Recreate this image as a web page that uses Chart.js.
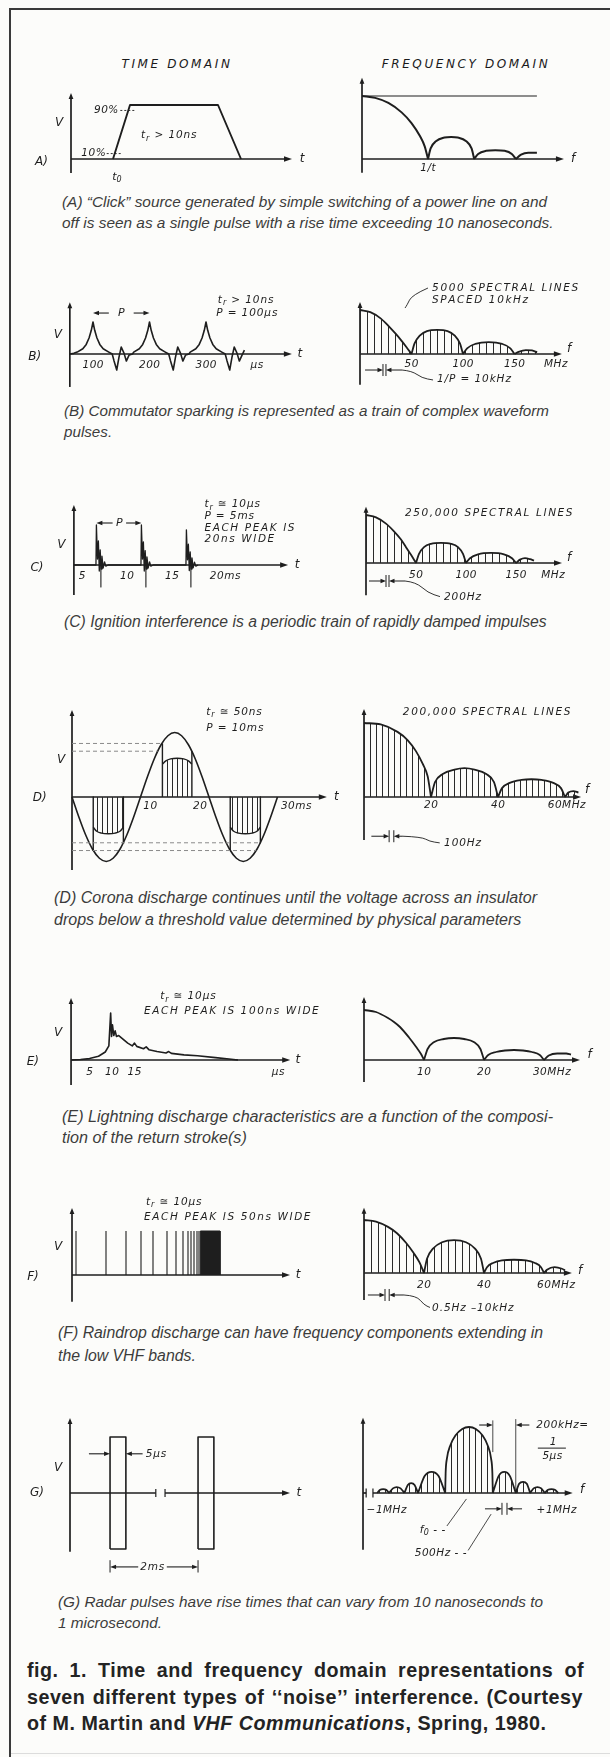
<!DOCTYPE html>
<html>
<head>
<meta charset="utf-8">
<script src="https://cdn.jsdelivr.net/npm/chart.js@4.4.1/dist/chart.umd.min.js"></script>
<style>
  html, body { margin: 0; padding: 0; background: #fcfcfa; }
  #page { position: relative; width: 610px; height: 1757px; overflow: hidden; background: #fcfcfa; }
  .rule { position: absolute; background: #3a3a3a; }
  .title { position: absolute; top: 57px; line-height: 14px; font: italic 12px "DejaVu Sans", sans-serif;
           letter-spacing: 2.6px; color: #1a1a1a; transform: translateX(-50%); white-space: nowrap; }
  .cap { position: absolute; font-family: "Liberation Sans", Arial, sans-serif; font-style: italic; color: #3c3c3c; }
  .cap div, .fig div { white-space: nowrap; }
  .fig { position: absolute; left: 27px; top: 1657px; font-family: "Liberation Sans", Arial, sans-serif;
         font-weight: bold; line-height: 26.5px; color: #232323; }
  canvas { position: absolute; }
</style>
</head>
<body>
<div id="page">
  <div class="rule" style="left:9px;top:8px;width:601px;height:2px"></div>
  <div class="rule" style="left:9px;top:8px;width:2px;height:1749px"></div>
  <div class="rule" style="left:11px;top:1753px;width:599px;height:1px;background:#dcdcdc"></div>
  <div class="title" style="left:177px">TIME DOMAIN</div>
  <div class="title" style="left:466px">FREQUENCY DOMAIN</div>
</div>
<script>
// ---------------- (A) switching click ----------------
const aPulseNs   = [0, 17, 105, 128];
const aPulseV    = [0, 100, 100, 0];
const aRiseLevelsPct = [10, 90];
const aRiseTickNs    = [1.7, 15.3];
const aSpecX   = [0, 0.2, 0.4, 0.6, 0.75, 0.88, 0.95, 1.0, null, 1.0, 1.04, 1.12, 1.25, 1.35, 1.45, 1.58, 1.66, 1.70, null, 1.70, 1.76, 1.88, 2.02, 2.16, 2.27, 2.33, null, 2.33, 2.41, 2.52, 2.65];
const aSpecAmp = [1, 0.97, 0.89, 0.74, 0.57, 0.36, 0.2, 0, null, 0, 0.17, 0.28, 0.34, 0.35, 0.34, 0.28, 0.17, 0, null, 0, 0.08, 0.13, 0.14, 0.13, 0.08, 0, null, 0, 0.07, 0.1, 0.1];
const aFlatX   = [0, 2.65];
const aFlatAmp = [1, 1];

// ---------------- (B) commutator sparking ----------------
const bTimeUs = [59, 66, 72, 82, 88, 93, 97, 100, 103, 107, 112, 118, 128, 134, 137, 142, 146, 150, 155, 159, 164, 170,
                 172, 182, 188, 193, 197, 200, 203, 207, 212, 218, 228, 234, 237, 242, 246, 250, 255, 259, 264, 270,
                 272, 282, 288, 293, 297, 300, 303, 307, 312, 318, 328, 334, 337, 342, 346, 350, 355, 359, 364, 368];
const bTimeV  = [0, 0.02, 0.06, 0.165, 0.3, 0.5, 0.74, 1, 0.74, 0.5, 0.3, 0.165, 0.06, 0, -0.2, -0.5, -0.1, 0.22, 0.02, -0.22, -0.03, 0,
                 0.06, 0.165, 0.3, 0.5, 0.74, 1, 0.74, 0.5, 0.3, 0.165, 0.06, 0, -0.2, -0.5, -0.1, 0.22, 0.02, -0.22, -0.03, 0,
                 0.06, 0.165, 0.3, 0.5, 0.74, 1, 0.74, 0.5, 0.3, 0.165, 0.06, 0, -0.2, -0.5, -0.1, 0.22, 0.02, -0.22, -0.03, 0.12];
const bTickUs  = [100, 200, 300];
const bFreqMHz = [0, 10, 20, 28, 35, 40, 45, 50, null, 50, 53, 58, 65, 75, 85, 92, 97, 100, null, 100, 104, 112, 125, 138, 146, 150, null, 150, 154, 161, 167, 172];
const bFreqAmp = [1, 0.95, 0.81, 0.63, 0.45, 0.31, 0.16, 0, null, 0, 0.24, 0.42, 0.52, 0.55, 0.52, 0.42, 0.24, 0, null, 0, 0.13, 0.23, 0.27, 0.23, 0.13, 0, null, 0, 0.05, 0.09, 0.08, 0.04];
const bFreqTickMHz = [50, 100, 150];

// ---------------- (C) ignition ----------------
const cTimeMs = [4.1, 6.55, 6.6, 6.72, 6.82, 6.92, 7.02, 7.12, 7.22, 7.35, 7.5, 7.65, 7.9,
                 11.55, 11.6, 11.72, 11.82, 11.92, 12.02, 12.12, 12.22, 12.35, 12.5, 12.65, 12.9,
                 16.55, 16.6, 16.72, 16.82, 16.92, 17.02, 17.12, 17.22, 17.35, 17.5, 17.65, 17.9];
const cTimeV  = [0, 0, 1.0, 0.15, 0.6, -0.15, 0.38, -0.1, 0.22, -0.08, 0.08, -0.03, 0,
                 0, 1.0, 0.15, 0.58, -0.15, 0.36, -0.1, 0.2, -0.08, 0.08, -0.03, 0,
                 0, 0.88, 0.13, 0.52, -0.14, 0.33, -0.1, 0.18, -0.07, 0.07, -0.03, 0];
const cSparkMs = [6.6, 11.6, 16.6];
const cMarkMs  = [7.1, 12.1, 17.1];
const cTickMs  = [5, 10, 15];
const cFreqMHz = [0, 10, 20, 28, 35, 40, 45, 50, null, 50, 53, 58, 65, 75, 85, 92, 97, 100, null, 100, 104, 112, 125, 138, 146, 150, null, 150, 154, 159, 164, 168];
const cFreqAmp = [1, 0.95, 0.82, 0.66, 0.49, 0.33, 0.17, 0, null, 0, 0.19, 0.33, 0.4, 0.42, 0.4, 0.33, 0.19, 0, null, 0, 0.1, 0.18, 0.21, 0.18, 0.1, 0, null, 0, 0.07, 0.1, 0.08, 0.05];
const cFreqTickMHz = [50, 100, 150];

// ---------------- (D) corona ----------------
const dTimeMs = [0, 1, 2, 3, 4, 5, 6, 7, 8, 9, 10, 11, 12, 13, 14, 15, 16, 17, 18, 19, 20, 21, 22, 23, 24, 25, 26, 27, 28, 29, 30];
const dTimeV  = [0, -0.31, -0.59, -0.81, -0.95, -1, -0.95, -0.81, -0.59, -0.31, 0, 0.31, 0.59, 0.81, 0.95, 1, 0.95, 0.81, 0.59, 0.31, 0,
                 -0.31, -0.59, -0.81, -0.95, -1, -0.95, -0.81, -0.59, -0.31, 0];
const dThresholdV     = [0.83, 0.71, -0.71, -0.83];
const dThresholdEndMs = [13.2, 12.5, 27.5, 26.9];
const dCoronaMs = [3.1, 3.6, 4.3, 5.3, 6.3, 7.0, 7.5, null, 13.2, 13.7, 14.4, 15.35, 16.3, 17.0, 17.5, null, 23.1, 23.6, 24.3, 25.3, 26.3, 27.0, 27.5];
const dCoronaV  = [-0.47, -0.53, -0.56, -0.57, -0.56, -0.53, -0.47, null, 0.51, 0.56, 0.59, 0.6, 0.59, 0.56, 0.51, null, -0.47, -0.53, -0.56, -0.57, -0.56, -0.53, -0.47];
const dEdgeMs = [3.1, 7.5, 13.2, 17.5, 23.1, 27.5];
const dEdgeV  = [-0.83, -0.71, 0.83, 0.71, -0.83, -0.71];
const dFreqMHz = [0, 5, 10, 13, 15.5, 17.5, 19, 20, null, 20, 21.2, 23.5, 27, 30, 33, 36.5, 38.8, 40, null, 40, 41.2, 43.5, 47, 50, 53, 56.5, 58.8, 60, null, 60, 61, 62.5, 64];
const dFreqAmp = [1, 0.98, 0.88, 0.77, 0.62, 0.45, 0.28, 0, null, 0, 0.2, 0.31, 0.37, 0.39, 0.37, 0.31, 0.2, 0, null, 0, 0.12, 0.19, 0.23, 0.24, 0.23, 0.19, 0.12, 0, null, 0, 0.06, 0.08, 0.06];
const dFreqTickMHz = [20, 40];

// ---------------- (E) lightning ----------------
const eTimeUs = [0.9, 3, 5, 7, 8.5, 9.3, 9.7, 9.9, 10.1, 10.4, 10.7, 11.0, 11.5, 12.5, 13.5, 14.5, 15.0, 15.5, 17, 17.6, 18.2, 20, 22, 22.6, 23.2, 26, 29, 33, 36, 38];
const eTimeV  = [0, 0.01, 0.03, 0.08, 0.17, 0.3, 1.0, 0.5, 0.75, 0.52, 0.62, 0.5, 0.52, 0.44, 0.36, 0.3, 0.36, 0.29, 0.24, 0.28, 0.22, 0.18, 0.15, 0.18, 0.14, 0.11, 0.09, 0.05, 0.02, 0];
const eTickUs = [5, 10, 15];
const eFreqMHz = [0, 2, 4, 5, 6, 7.5, 8.7, 9.5, 10, null, 10, 10.6, 11.7, 13.3, 15, 16.7, 18.3, 19.4, 20, null, 20, 20.7, 22, 23.5, 25, 26.5, 28, 29.3, 30, null, 30, 30.8, 32.2, 33.7, 34.5];
const eFreqAmp = [1, 0.96, 0.84, 0.76, 0.66, 0.45, 0.26, 0.12, 0, null, 0, 0.22, 0.36, 0.42, 0.44, 0.42, 0.36, 0.22, 0, null, 0, 0.1, 0.16, 0.19, 0.2, 0.19, 0.16, 0.1, 0, null, 0, 0.09, 0.13, 0.13, 0.11];
const eFreqTickMHz = [10, 20];

// ---------------- (F) raindrop ----------------
const fSparkX      = [2, 17, 27, 34.5, 40.5, 47.5, 52, 55.5, 58, 59.5, 61, 62.5, 63.5];
const fSparkHeight = [1, 1, 1, 1, 1, 1, 1, 1, 1, 1, 1, 1, 1];
const fBurstX      = [64.2, 74];
const fFreqMHz = [0, 4, 8, 11, 14, 16.5, 18.5, 20, null, 20, 21, 23, 26, 30, 34, 37, 39, 40, null, 40, 41, 43, 46, 50, 54, 57, 59, 60, null, 60, 61, 63.5, 66, 67];
const fFreqAmp = [1, 0.97, 0.87, 0.75, 0.57, 0.38, 0.2, 0, null, 0, 0.27, 0.46, 0.58, 0.62, 0.58, 0.46, 0.27, 0, null, 0, 0.11, 0.19, 0.24, 0.25, 0.24, 0.19, 0.11, 0, null, 0, 0.06, 0.11, 0.08, 0.05];
const fFreqTickMHz = [20, 40];

// ---------------- (G) radar ----------------
const gPulseStart = [0.91, 2.91];
const gPulseEnd   = [1.27, 3.27];
const gPulseV     = [1, -1];
const gFreqMHz = [-1.08, -1.045, -1.01, -0.975, -0.94, null, -0.94, -0.895, -0.85, -0.805, -0.76, null, -0.76, -0.72, -0.68, -0.64, -0.6, null,
                  -0.6, -0.52, -0.44, -0.36, -0.28, null,
                  -0.28, -0.275, -0.26, -0.22, -0.16, -0.08, 0, 0.08, 0.16, 0.22, 0.26, 0.275, 0.28, null,
                  0.28, 0.35, 0.415, 0.48, 0.55, null, 0.55, 0.59, 0.635, 0.68, 0.72, null, 0.72, 0.76, 0.805, 0.85, 0.89, null, 0.89, 0.93, 0.97, 1.01, 1.05];
const gFreqAmp = [0, 0.05, 0.06, 0.05, 0, null, 0, 0.07, 0.09, 0.07, 0, null, 0, 0.12, 0.15, 0.12, 0, null,
                  0, 0.26, 0.32, 0.26, 0, null,
                  0, 0.3, 0.52, 0.72, 0.87, 0.97, 1, 0.97, 0.87, 0.72, 0.52, 0.3, 0, null,
                  0, 0.26, 0.32, 0.26, 0, null, 0, 0.14, 0.17, 0.14, 0, null, 0, 0.07, 0.09, 0.07, 0, null, 0, 0.05, 0.06, 0.05, 0];

// ---------------- panel placement (page pixels) ----------------
// box: canvas rectangle; origin: page pixel of data (0,0); k: pixels per data unit
const LAYOUT = {
  aTime: { box: [20, 85, 318, 100],  origin: [113, 159],  k: [1, 0.54] },
  aFreq: { box: [340, 70, 265, 115], origin: [362, 159],  k: [66, 63] },
  bTime: { box: [20, 282, 318, 110], origin: [36.5, 354], k: [0.565, 32] },
  bFreq: { box: [340, 282, 265, 113], origin: [360, 354], k: [1.03, 44] },
  cTime: { box: [20, 497, 318, 102], origin: [37, 565],   k: [9, 40] },
  cFreq: { box: [340, 500, 265, 104], origin: [366, 563], k: [1.0, 48] },
  dTime: { box: [20, 700, 330, 175], origin: [72, 797],   k: [6.85, 64.5] },
  dFreq: { box: [340, 700, 265, 150], origin: [364, 797], k: [3.35, 74] },
  eTime: { box: [20, 988, 318, 100], origin: [67, 1060],  k: [4.5, 47] },
  eFreq: { box: [340, 988, 265, 100], origin: [364, 1060], k: [6.0, 50] },
  fTime: { box: [20, 1195, 318, 112], origin: [72, 1275], k: [2, 44] },
  fFreq: { box: [340, 1198, 265, 116], origin: [364, 1273], k: [3.0, 53] },
  gTime: { box: [20, 1410, 318, 170], origin: [70, 1493], k: [44, 56] },
  gFreq: { box: [340, 1400, 265, 160], origin: [469, 1493], k: [85, 66] }
};

const CAPTIONS = [
  { left: 62, top: 191, width: 485, lh: 21, lines: ['(A) \u201CClick\u201D source generated by simple switching of a power line on and', 'off is seen as a single pulse with a rise time exceeding 10 nanoseconds.'] },
  { left: 64, top: 400, width: 485, lh: 21, lines: ['(B) Commutator sparking is represented as a train of complex waveform', 'pulses.'] },
  { left: 64, top: 611, width: 483, lh: 21, lines: ['(C) Ignition interference is a periodic train of rapidly damped impulses'] },
  { left: 54, top: 886, width: 483, lh: 22, lines: ['(D) Corona discharge continues until the voltage across an insulator', 'drops below a threshold value determined by physical parameters'] },
  { left: 62, top: 1106, width: 491, lh: 21, lines: ['(E) Lightning discharge characteristics are a function of the composi-', 'tion of the return stroke(s)'] },
  { left: 58, top: 1321, width: 485, lh: 23, lines: ['(F) Raindrop discharge can have frequency components extending in', 'the low VHF bands.'] },
  { left: 58, top: 1591, width: 485, lh: 21, lines: ['(G) Radar pulses have rise times that can vary from 10 nanoseconds to', '1 microsecond.'] }
];
const FIG_LINES = [
  'fig. 1. Time and frequency domain representations of',
  'seven different types of \u2018\u2018noise\u2019\u2019 interference. (Courtesy'
];

const INK = '#1e1e1e';
const page = document.getElementById('page');
const meas = document.createElement('canvas').getContext('2d');

// spread a single line to an exact width through word spacing
function spread(div, text, font, ls, target) {
  meas.font = font;
  const natural = meas.measureText(text).width + ls * text.length;
  const gaps = (text.match(/ /g) || []).length;
  if (gaps) div.style.wordSpacing = ((target - natural) / gaps).toFixed(2) + 'px';
}

CAPTIONS.forEach(c => {
  meas.font = 'italic 14px "Liberation Sans"';
  const size = 14 * c.width / meas.measureText(c.lines[0]).width;
  const font = `italic ${size.toFixed(2)}px "Liberation Sans"`;
  const el = document.createElement('div');
  el.className = 'cap';
  el.style.cssText = `left:${c.left}px;top:${c.top}px;font-size:${size.toFixed(2)}px;line-height:${c.lh}px`;
  c.lines.forEach((t, i) => {
    const d = document.createElement('div');
    d.textContent = t;
    if (i < c.lines.length - 1) spread(d, t, font, 0, c.width);
    el.appendChild(d);
  });
  page.appendChild(el);
});

// figure caption
(() => {
  const ls = 0.5, width = 557;
  meas.font = 'bold 16px "Liberation Sans"';
  const w2 = meas.measureText(FIG_LINES[1]).width;
  const size = 16 * (width - 8 - ls * FIG_LINES[1].length) / w2;
  const font = `bold ${size.toFixed(2)}px "Liberation Sans"`;
  const el = document.createElement('div');
  el.className = 'fig';
  el.style.fontSize = size.toFixed(2) + 'px';
  el.style.letterSpacing = ls + 'px';
  FIG_LINES.forEach(t => {
    const d = document.createElement('div');
    d.textContent = t;
    spread(d, t, font, ls, width);
    el.appendChild(d);
  });
  const last = document.createElement('div');
  last.innerHTML = 'of M. Martin and <i>VHF Communications</i>, Spring, 1980.';
  el.appendChild(last);
  page.appendChild(el);
})();

// ---------------- drawing helpers ----------------
function hatch(step, offset) {
  const c = document.createElement('canvas');
  c.width = step; c.height = 4;
  const g = c.getContext('2d');
  g.fillStyle = '#2a2a2a';
  g.fillRect(0, 0, 1, 4);
  const p = g.createPattern(c, 'repeat');
  p.setTransform(new DOMMatrix().translate(((offset % step) + step) % step, 0));
  return p;
}
function hatchFor(key, step) {
  const L = LAYOUT[key];
  return hatch(step, Math.round(L.origin[0] - L.box[0]));
}

function points(xs, ys) {
  return xs.map((x, i) => ({ x: x, y: ys[i] }));
}
function series(xs, ys, o = {}) {
  return {
    data: points(xs, ys),
    showLine: true, pointRadius: 0, pointHoverRadius: 0,
    borderColor: o.color || INK, borderWidth: o.w || 1.6,
    borderDash: o.dash || [], borderJoinStyle: 'round', borderCapStyle: 'butt',
    tension: 0, cubicInterpolationMode: o.mono ? 'monotone' : 'default',
    spanGaps: false, fill: o.fill || false,
    backgroundColor: o.bg || 'rgba(0,0,0,0)',
    clip: false
  };
}
// vertical strokes from a base value to each value
function strokes(xs, from, to) {
  const px = [], py = [];
  xs.forEach((x, i) => {
    px.push(x, x, null);
    py.push(Array.isArray(from) ? from[i] : from, Array.isArray(to) ? to[i] : to, null);
  });
  return [px, py];
}

function arrowHead(ctx, a, b, len, half) {
  const ang = Math.atan2(b[1] - a[1], b[0] - a[0]);
  const c = Math.cos(ang), s = Math.sin(ang);
  ctx.beginPath();
  ctx.moveTo(b[0], b[1]);
  ctx.lineTo(b[0] - len * c + half * s, b[1] - len * s - half * c);
  ctx.lineTo(b[0] - len * c - half * s, b[1] - len * s + half * c);
  ctx.closePath();
  ctx.fill();
}

function drawLabel(ctx, px, py, str, o) {
  const size = o.size || 10, sp = (o.sp === undefined) ? 1.6 : o.sp;
  const toks = [];
  for (let i = 0; i < str.length; i++) {
    if (str[i] === '_' && i + 1 < str.length) { toks.push({ c: str[i + 1], sub: true }); i++; }
    else toks.push({ c: str[i], sub: false });
  }
  const font = sub => `italic ${o.bold ? 'bold ' : ''}${sub ? Math.round(size * 0.72) : size}px "DejaVu Sans"`;
  let total = 0;
  const adv = toks.map(t => { ctx.font = font(t.sub); const w = ctx.measureText(t.c).width + sp; total += w; return w; });
  total -= sp;
  let x = o.align === 'left' ? px : o.align === 'right' ? px - total : px - total / 2;
  ctx.textBaseline = 'middle';
  ctx.textAlign = 'left';
  toks.forEach((t, i) => {
    ctx.font = font(t.sub);
    ctx.fillText(t.c, x, py + (t.sub ? size * 0.32 : 0));
    x += adv[i];
  });
}

function paint(chart, items) {
  const ctx = chart.ctx, sx = chart.scales.x, sy = chart.scales.y;
  const X = v => sx.getPixelForValue(v), Y = v => sy.getPixelForValue(v);
  ctx.save();
  for (const it of items) {
    ctx.fillStyle = it.color || INK;
    ctx.strokeStyle = it.color || INK;
    if (it.t === 'line') {
      const p = it.pts.map(q => [X(q[0]), Y(q[1])]);
      const n = p.length, hl = it.hl || 7, hw = it.hw || 2.6;
      const d = p.map(q => q.slice());
      const pull = (from, to) => {
        const dx = to[0] - from[0], dy = to[1] - from[1], L = Math.hypot(dx, dy) || 1;
        to[0] -= dx / L * hl * 0.6; to[1] -= dy / L * hl * 0.6;
      };
      if (it.head === 'end' || it.head === 'both') pull(d[n - 2], d[n - 1]);
      if (it.head === 'start' || it.head === 'both') pull(d[1], d[0]);
      ctx.lineWidth = it.w || 1.2;
      ctx.setLineDash(it.dash || []);
      ctx.lineCap = 'butt';
      ctx.beginPath();
      ctx.moveTo(d[0][0], d[0][1]);
      if (it.smooth && n > 2) {
        for (let i = 1; i < n - 1; i++) {
          ctx.quadraticCurveTo(d[i][0], d[i][1], (d[i][0] + d[i + 1][0]) / 2, (d[i][1] + d[i + 1][1]) / 2);
        }
        ctx.lineTo(d[n - 1][0], d[n - 1][1]);
      } else {
        for (let i = 1; i < n; i++) ctx.lineTo(d[i][0], d[i][1]);
      }
      ctx.stroke();
      ctx.setLineDash([]);
      if (it.head === 'end' || it.head === 'both') arrowHead(ctx, p[n - 2], p[n - 1], hl, hw);
      if (it.head === 'start' || it.head === 'both') arrowHead(ctx, p[1], p[0], hl, hw);
    } else if (it.t === 'text') {
      drawLabel(ctx, X(it.x), Y(it.y), it.s, it);
    } else if (it.t === 'gap') {
      const y = Y(it.y), h = it.h || 6;
      ctx.lineWidth = 1;
      [it.x1, it.x2].forEach(v => { ctx.beginPath(); ctx.moveTo(X(v), y - h); ctx.lineTo(X(v), y + h); ctx.stroke(); });
      [[it.xa, it.x1], [it.xb, it.x2]].forEach(([a, b]) => {
        const A = [X(a), y], B = [X(b), y];
        const dir = Math.sign(B[0] - A[0]);
        ctx.beginPath(); ctx.moveTo(A[0], y); ctx.lineTo(B[0] - dir * 3, y); ctx.stroke();
        arrowHead(ctx, A, B, 5.5, 2.2);
      });
    }
  }
  ctx.restore();
}

const sketchPlugin = {
  id: 'sketch',
  beforeDatasetsDraw(chart, args, opts) { paint(chart, (opts.items || []).filter(i => i.under)); },
  afterDatasetsDraw(chart, args, opts) { paint(chart, (opts.items || []).filter(i => !i.under)); }
};

const Ln = (pts, o = {}) => Object.assign({ t: 'line', pts }, o);
const Tx = (x, y, s, o = {}) => Object.assign({ t: 'text', x, y, s }, o);
const Gap = o => Object.assign({ t: 'gap' }, o);
function axes(xAt, yFrom, yTo, xTo, yAt = 0) {
  return [
    Ln([[xAt, yFrom], [xAt, yTo]], { head: 'end', w: 1.7, under: true, hl: 6, hw: 2.4 }),
    Ln([[xAt, yAt], [xTo, yAt]], { head: 'end', w: 1.7, under: true, hl: 8, hw: 2.8 })
  ];
}
const BIG = { size: 12, sp: 0 };
const TICK = { size: 10.5, sp: 0.5 };
const NOTE = { size: 10.5, sp: 1.6, align: 'left' };
const NOTE_T = Object.assign({}, NOTE, { sp: 0.9 });

function panel(key, datasets, items) {
  const L = LAYOUT[key];
  const [bx, by, bw, bh] = L.box, [ox, oy] = L.origin, [kx, ky] = L.k;
  const cv = document.createElement('canvas');
  cv.width = bw; cv.height = bh;
  cv.style.left = bx + 'px'; cv.style.top = by + 'px';
  cv.style.width = bw + 'px'; cv.style.height = bh + 'px';
  page.appendChild(cv);
  new Chart(cv, {
    type: 'scatter',
    data: { datasets },
    options: {
      responsive: false, animation: false, devicePixelRatio: 1, events: [],
      layout: { padding: 0 },
      plugins: { legend: { display: false }, tooltip: { enabled: false }, sketch: { items } },
      scales: {
        x: { type: 'linear', display: false, min: (bx - ox) / kx, max: (bx + bw - ox) / kx },
        y: { type: 'linear', display: false, min: (oy - by - bh) / ky, max: (oy - by) / ky }
      }
    },
    plugins: [sketchPlugin]
  });
}

// ---------------- (A) ----------------
panel('aTime', [series(aPulseNs, aPulseV, { w: 1.9 })], [
  ...axes(-42, -26, 122, 179),
  Tx(189, 0, 't', BIG), Tx(-54, 67, 'V', BIG), Tx(-78, -6, 'A)', Object.assign({ align: 'left' }, BIG)),
  ...aRiseLevelsPct.map((lv, i) => Ln([[aRiseTickNs[i] - 8, lv], [aRiseTickNs[i] + 7, lv]], { w: 0.9, dash: [2, 2] })),
  Tx(aRiseTickNs[1] - 10, aRiseLevelsPct[1], aRiseLevelsPct[1] + '%', Object.assign({}, TICK, { align: 'right' })),
  Tx(aRiseTickNs[0] - 9, aRiseLevelsPct[0], aRiseLevelsPct[0] + '%', Object.assign({}, TICK, { align: 'right' })),
  Tx(28, 44, 't_r > 10ns', NOTE_T),
  Tx(4, -33, 't_0', { size: 11, sp: 0 })
]);
panel('aFreq', [series(aSpecX, aSpecAmp, { w: 2, mono: true }), series(aFlatX, aFlatAmp, { w: 1.2 })], [
  ...axes(0, -0.22, 1.29, 3.06),
  Tx(3.2, 0, 'f', BIG), Tx(1.0, -0.15, '1/t', TICK)
]);

// ---------------- (B) ----------------
panel('bTime', [series(bTimeUs, bTimeV, { w: 1.6 })], [
  ...axes(59, -1.03, 1.62, 452),
  Tx(466, 0, 't', BIG), Tx(38, 0.59, 'V', BIG), Tx(-3, -0.09, 'B)', BIG),
  ...bTickUs.map(v => Tx(v, -0.35, String(v), TICK)), Tx(390, -0.35, 'µs', TICK),
  Ln([[128, 1.28], [bTickUs[0], 1.28]], { head: 'end', w: 1.1, hl: 6, hw: 2.2 }),
  Ln([[172, 1.28], [bTickUs[1], 1.28]], { head: 'end', w: 1.1, hl: 6, hw: 2.2 }),
  Tx(150, 1.28, 'P', { size: 11, sp: 0 }),
  Tx(321, 1.69, 't_r > 10ns', NOTE_T), Tx(318, 1.28, 'P = 100µs', NOTE_T)
]);
panel('bFreq', [series(bFreqMHz, bFreqAmp, { w: 1.8, mono: true, fill: 'origin', bg: hatchFor('bFreq', 7) })], [
  ...axes(0, -0.7, 1.18, 196),
  Tx(203, 0.12, 'f', BIG),
  ...bFreqTickMHz.map(v => Tx(v, -0.23, String(v), TICK)), Tx(190, -0.23, 'MHz', TICK),
  Tx(70, 1.5, '5000 SPECTRAL LINES', NOTE), Tx(70, 1.23, 'SPACED 10kHz', NOTE),
  Ln([[66, 1.5], [50.5, 1.34], [45.6, 1.11], [43.7, 1.045]], { w: 0.9, smooth: true }),
  Gap({ x1: 22.3, x2: 25.2, xa: 4.9, xb: 40.8, y: -0.364, h: 6 }),
  Ln([[40.8, -0.364], [50.5, -0.386], [60.2, -0.545], [70.9, -0.59]], { w: 0.9, smooth: true }),
  Tx(74.8, -0.57, '1/P = 10kHz', NOTE_T)
]);

// ---------------- (C) ----------------
const [cMx, cMy] = strokes(cMarkMs, 0.15, -0.55);
panel('cTime', [series(cTimeMs, cTimeV, { w: 1.3 }), series(cMx, cMy, { w: 1.1 })], [
  ...axes(4.1, -0.75, 1.5, 27.9),
  Tx(28.9, 0, 't', BIG), Tx(2.7, 0.5, 'V', BIG), Tx(0, -0.08, 'C)', BIG),
  ...cTickMs.map(v => Tx(v, -0.28, String(v), TICK)), Tx(19.2, -0.28, '20ms', Object.assign({}, TICK, { align: 'left' })),
  Ln([[8.4, 1.05], [cSparkMs[0], 1.05]], { head: 'end', w: 1.1, hl: 6, hw: 2.2 }),
  Ln([[9.9, 1.05], [cSparkMs[1], 1.05]], { head: 'end', w: 1.1, hl: 6, hw: 2.2 }),
  Tx(9.15, 1.05, 'P', { size: 11, sp: 0 }),
  Tx(18.6, 1.52, 't_r ≅ 10µs', NOTE_T), Tx(18.6, 1.22, 'P = 5ms', NOTE_T),
  Tx(18.6, 0.93, 'EACH PEAK IS', NOTE), Tx(18.6, 0.64, '20ns WIDE', NOTE)
]);
panel('cFreq', [series(cFreqMHz, cFreqAmp, { w: 1.8, mono: true, fill: 'origin', bg: hatchFor('cFreq', 7) })], [
  ...axes(0, -0.67, 1.17, 196),
  Tx(203, 0.1, 'f', BIG),
  ...cFreqTickMHz.map(v => Tx(v, -0.25, String(v), TICK)), Tx(187, -0.25, 'MHz', TICK),
  Tx(39, 1.04, '250,000 SPECTRAL LINES', NOTE),
  Gap({ x1: 20, x2: 23, xa: 3, xb: 39, y: -0.375, h: 6 }),
  Ln([[39, -0.375], [50, -0.4], [62, -0.62], [74, -0.7]], { w: 0.9, smooth: true }),
  Tx(78, -0.71, '200Hz', NOTE_T)
]);

// ---------------- (D) ----------------
const dThrX = [], dThrY = [];
dThresholdV.forEach((v, i) => { dThrX.push(0, dThresholdEndMs[i], null); dThrY.push(v, v, null); });
const [dEx, dEy] = strokes(dEdgeMs, 0, dEdgeV);
panel('dTime', [
  series(dThrX, dThrY, { w: 1, dash: [4, 3], color: '#8a8a8a' }),
  series(dCoronaMs, dCoronaV, { w: 1.4, mono: true, fill: 'origin', bg: hatchFor('dTime', 5) }),
  series(dEx, dEy, { w: 1.4 }),
  series(dTimeMs, dTimeV, { w: 1.6, mono: true })
], [
  ...axes(0, -1.13, 1.35, 37.2),
  Tx(38.6, 0, 't', BIG), Tx(-1.6, 0.57, 'V', BIG), Tx(-4.7, -0.02, 'D)', BIG),
  Tx(10.4, -0.14, '10', Object.assign({}, TICK, { align: 'left' })),
  Tx(19.7, -0.14, '20', Object.assign({}, TICK, { align: 'right' })),
  Tx(30.5, -0.14, '30ms', Object.assign({}, TICK, { align: 'left' })),
  Tx(19.6, 1.32, 't_r ≅ 50ns', NOTE_T), Tx(19.6, 1.07, 'P = 10ms', NOTE_T)
]);
panel('dFreq', [series(dFreqMHz, dFreqAmp, { w: 1.8, mono: true, fill: 'origin', bg: hatchFor('dFreq', 6) })], [
  ...axes(0, -0.58, 1.19, 64.8),
  Tx(66.6, 0.09, 'f', BIG),
  ...dFreqTickMHz.map(v => Tx(v, -0.11, String(v), TICK)), Tx(60.5, -0.11, '60MHz', TICK),
  Tx(11.6, 1.15, '200,000 SPECTRAL LINES', NOTE),
  Gap({ x1: 7.5, x2: 8.9, xa: 2.2, xb: 11.6, y: -0.53, h: 6 }),
  Ln([[11.6, -0.53], [17.2, -0.54], [19.6, -0.6], [22.6, -0.62]], { w: 0.9, smooth: true }),
  Tx(23.9, -0.62, '100Hz', NOTE_T)
]);

// ---------------- (E) ----------------
panel('eTime', [series(eTimeUs, eTimeV, { w: 1.6 })], [
  ...axes(0.9, -0.53, 1.32, 49.6),
  Tx(51.3, 0, 't', BIG), Tx(-2, 0.57, 'V', BIG), Tx(-7.6, -0.04, 'E)', BIG),
  ...eTickUs.map(v => Tx(v, -0.26, String(v), TICK)), Tx(46.9, -0.26, 'µs', TICK),
  Tx(20.7, 1.36, 't_r ≅ 10µs', NOTE_T), Tx(17.1, 1.04, 'EACH PEAK IS 100ns WIDE', NOTE)
]);
panel('eFreq', [series(eFreqMHz, eFreqAmp, { w: 1.8, mono: true })], [
  ...axes(0, -0.44, 1.26, 36),
  Tx(37.6, 0.1, 'f', BIG),
  ...eFreqTickMHz.map(v => Tx(v, -0.24, String(v), TICK)), Tx(31.3, -0.24, '30MHz', TICK)
]);

// ---------------- (F) ----------------
const [fSx, fSy] = strokes(fSparkX, 0, fSparkHeight);
panel('fTime', [
  series(fSx, fSy, { w: 1.1 }),
  series([fBurstX[0], fBurstX[0], fBurstX[1], fBurstX[1]], [0, 1, 1, 0], { w: 1, fill: 'origin', bg: INK })
], [
  ...axes(0, -0.61, 1.52, 109),
  Tx(113, 0, 't', BIG), Tx(-7, 0.64, 'V', BIG), Tx(-19.5, -0.05, 'F)', BIG),
  Tx(37, 1.66, 't_r ≅ 10µs', NOTE_T), Tx(36, 1.32, 'EACH PEAK IS 50ns WIDE', NOTE)
]);
panel('fFreq', [series(fFreqMHz, fFreqAmp, { w: 1.8, mono: true, fill: 'origin', bg: hatchFor('fFreq', 7) })], [
  ...axes(0, -0.51, 1.23, 69.3),
  Tx(72, 0.04, 'f', BIG),
  ...fFreqTickMHz.map(v => Tx(v, -0.23, String(v), TICK)), Tx(64, -0.23, '60MHz', TICK),
  Gap({ x1: 7, x2: 8.4, xa: 1.3, xb: 13.3, y: -0.415, h: 6 }),
  Ln([[13.3, -0.415], [17.5, -0.43], [20, -0.6], [22, -0.65]], { w: 0.9, smooth: true }),
  Tx(22.7, -0.66, '0.5Hz –10kHz', NOTE_T)
]);

// ---------------- (G) ----------------
const gPx = [], gPy = [];
gPulseStart.forEach((s, i) => {
  const e = gPulseEnd[i];
  gPx.push(s, s, e, e, s, null);
  gPy.push(gPulseV[1], gPulseV[0], gPulseV[0], gPulseV[1], gPulseV[1], null);
});
panel('gTime', [series(gPx, gPy, { w: 1.6 })], [
  Ln([[0, -1.05], [0, 1.34]], { head: 'end', w: 1.7, under: true, hl: 6, hw: 2.4 }),
  Ln([[0, 0], [1.95, 0]], { w: 1.7, under: true }),
  Ln([[2.16, 0], [5.0, 0]], { head: 'end', w: 1.7, under: true, hl: 8, hw: 2.8 }),
  Ln([[1.95, -0.07], [1.95, 0.07]], { w: 1.2 }), Ln([[2.16, -0.07], [2.16, 0.07]], { w: 1.2 }),
  Tx(5.2, 0, 't', BIG), Tx(-0.27, 0.45, 'V', BIG), Tx(-0.75, 0, 'G)', BIG),
  Ln([[0.43, 0.7], [gPulseStart[0], 0.7]], { head: 'end', w: 1.1, hl: 6, hw: 2.2 }),
  Ln([[1.65, 0.7], [gPulseEnd[0], 0.7]], { head: 'end', w: 1.1, hl: 6, hw: 2.2 }),
  Tx(1.72, 0.7, '5µs', NOTE_T),
  Ln([[gPulseStart[0], -1.2], [gPulseStart[0], -1.42]], { w: 1 }),
  Ln([[gPulseStart[1], -1.2], [gPulseStart[1], -1.42]], { w: 1 }),
  Ln([[1.55, -1.32], [gPulseStart[0], -1.32]], { head: 'end', w: 1.1, hl: 6, hw: 2.2 }),
  Ln([[2.2, -1.32], [gPulseStart[1], -1.32]], { head: 'end', w: 1.1, hl: 6, hw: 2.2 }),
  Tx(1.87, -1.32, '2ms', Object.assign({}, TICK, { sp: 0.8 }))
]);
panel('gFreq', [series(gFreqMHz, gFreqAmp, { w: 1.8, mono: true, fill: 'origin', bg: hatchFor('gFreq', 6) })], [
  Ln([[-1.247, -0.86], [-1.247, 1.14]], { head: 'end', w: 1.7, under: true, hl: 6, hw: 2.4 }),
  Ln([[-1.247, 0], [-1.21, 0]], { w: 1.7, under: true }),
  Ln([[-1.13, 0], [1.22, 0]], { head: 'end', w: 1.7, under: true, hl: 8, hw: 2.8 }),
  Ln([[-1.21, -0.07], [-1.21, 0.07]], { w: 1.2 }), Ln([[-1.13, -0.07], [-1.13, 0.07]], { w: 1.2 }),
  Tx(1.33, 0.05, 'f', BIG),
  Tx(-0.97, -0.26, '−1MHz', TICK), Tx(1.03, -0.26, '+1MHz', TICK),
  Tx(-0.28, -0.56, 'f_0 - -', Object.assign({}, TICK, { align: 'right' })),
  Ln([[-0.26, -0.5], [-0.03, -0.09]], { w: 0.8 }),
  Tx(-0.03, -0.91, '500Hz - -', Object.assign({}, TICK, { align: 'right' })),
  Ln([[-0.01, -0.87], [0.26, -0.32]], { w: 0.8 }),
  Gap({ x1: 0.388, x2: 0.447, xa: 0.188, xb: 0.624, y: -0.24, h: 6 }),
  Ln([[0.28, 0.62], [0.28, 1.1]], { w: 0.8 }),
  Ln([[0.55, 0.04], [0.55, 1.12]], { w: 0.8 }),
  Ln([[0.12, 1.03], [0.28, 1.03]], { head: 'end', w: 1.1, hl: 6, hw: 2.2 }),
  Ln([[0.71, 1.03], [0.55, 1.03]], { head: 'end', w: 1.1, hl: 6, hw: 2.2 }),
  Tx(0.79, 1.03, '200kHz=', Object.assign({}, NOTE, { sp: 0.6 })),
  Tx(0.99, 0.77, '1', TICK),
  Ln([[0.81, 0.68], [1.14, 0.68]], { w: 1 }),
  Tx(0.98, 0.55, '5µs', TICK)
]);
</script>
</body>
</html>
